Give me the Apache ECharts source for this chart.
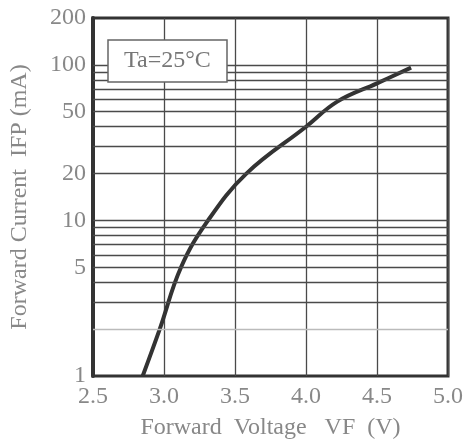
<!DOCTYPE html>
<html>
<head>
<meta charset="utf-8">
<script src="https://cdn.jsdelivr.net/npm/echarts@6/dist/echarts.min.js"></script>
<style>
  html, body { margin: 0; padding: 0; background: #fff; }
  #chart { width: 467px; height: 445px; }
</style>
</head>
<body>
<div id="chart"></div>
<script>
// forward voltage (V) vs forward current (mA)
const voltage = [2.85, 2.97, 3.12, 3.31, 3.58, 4.0, 4.22, 4.5, 4.74];
const current = [1, 2, 5, 10, 20, 40, 58, 76, 96];

// log grid lines and labelled ticks on the current axis
const currentGrid = [2, 3, 4, 5, 6, 7, 8, 9, 10, 20, 30, 40, 50, 60, 70, 80, 90, 100];
const currentLabels = [1, 5, 10, 20, 50, 100, 200];

const chart = echarts.init(document.getElementById('chart'));
const font = '"Liberation Serif", "DejaVu Serif", serif';

chart.setOption({
  animation: false,
  backgroundColor: '#fff',
  title: {
    text: 'Ta=25°C',
    left: 108,
    top: 40,
    padding: [9, 16, 9, 16],
    backgroundColor: '#fff',
    borderColor: '#666',
    borderWidth: 1.5,
    textStyle: { fontFamily: font, fontSize: 24, fontWeight: 'normal', color: '#777' },
  },
  grid: {
    left: 90, top: 18, right: 19, bottom: 69,
    show: true, borderColor: '#333', borderWidth: 3,
  },
  xAxis: {
    type: 'value',
    min: 2.5,
    max: 5.0,
    interval: 0.5,
    name: 'Forward  Voltage   VF  (V)',
    nameLocation: 'middle',
    nameGap: 40,
    nameTextStyle: { fontFamily: font, fontSize: 24, color: '#888' },
    axisLine: { show: false },
    axisTick: { show: false },
    axisLabel: {
      fontFamily: font, fontSize: 24, color: '#888', margin: 9,
      formatter: (v) => v.toFixed(1),
    },
    splitLine: { show: true, lineStyle: { color: '#4a4a4a', width: 1.3 } },
  },
  yAxis: {
    type: 'log',
    logBase: 10,
    min: 1,
    max: 200,
    name: 'Forward Current  IFP (mA)',
    nameLocation: 'middle',
    nameGap: 61,
    nameTextStyle: { fontFamily: font, fontSize: 24, color: '#888' },
    axisLine: { show: true, lineStyle: { color: '#333', width: 4 } },
    axisTick: { show: false },
    axisLabel: {
      customValues: currentLabels,
      fontFamily: font, fontSize: 24, color: '#888', margin: 7,
    },
    splitLine: { show: false },
  },
  series: [
    {
      type: 'line',
      data: [],
      silent: true,
      z: 1,
      markLine: {
        silent: true,
        symbol: 'none',
        label: { show: false },
        data: currentGrid.map((v) => ({
          yAxis: v,
          lineStyle: { color: v === 2 ? '#bbb' : '#4a4a4a', width: 1.3, type: 'solid' },
        })),
      },
    },
    {
      type: 'line',
      data: voltage.map((v, i) => [v, current[i]]),
      smooth: 0.4,
      symbol: 'none',
      z: 3,
      lineStyle: { color: '#333', width: 4 },
    },
  ],
});
</script>
</body>
</html>
